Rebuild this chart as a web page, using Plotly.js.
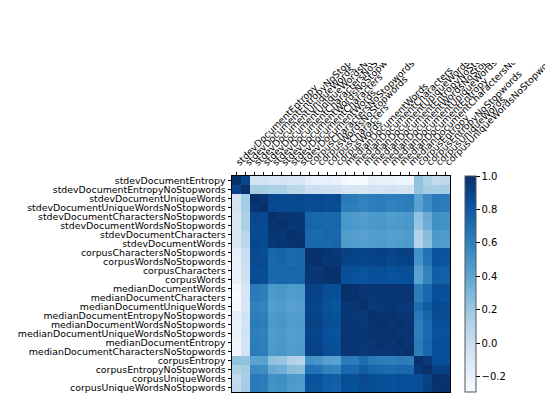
<!DOCTYPE html>
<html>
<head>
<meta charset="utf-8">
<script src="https://cdn.plot.ly/plotly-3.0.1.min.js"></script>
<style>
  html, body { margin: 0; padding: 0; background: #fff; }
  #chart { width: 545px; height: 408px; }
</style>
</head>
<body>
<div id="chart"></div>
<script>
// Feature names (same order on both axes)
const features = [
    'stdevDocumentEntropy', 'stdevDocumentEntropyNoStopwords',
    'stdevDocumentUniqueWords', 'stdevDocumentUniqueWordsNoStopwords',
    'stdevDocumentCharactersNoStopwords', 'stdevDocumentWordsNoStopwords',
    'stdevDocumentCharacters', 'stdevDocumentWords',
    'corpusCharactersNoStopwords', 'corpusWordsNoStopwords',
    'corpusCharacters', 'corpusWords',
    'medianDocumentWords', 'medianDocumentCharacters',
    'medianDocumentUniqueWords', 'medianDocumentEntropyNoStopwords',
    'medianDocumentWordsNoStopwords', 'medianDocumentUniqueWordsNoStopwords',
    'medianDocumentEntropy', 'medianDocumentCharactersNoStopwords',
    'corpusEntropy', 'corpusEntropyNoStopwords',
    'corpusUniqueWords', 'corpusUniqueWordsNoStopwords'
];

// Correlation matrix (row i = features[i])
const corr = [
    [1.00, 0.90, -0.06, -0.05, -0.08, -0.07, -0.09, -0.08, -0.17, -0.19, -0.18, -0.20, -0.26, -0.29, -0.28, -0.18, -0.19, -0.20, -0.22, -0.23, 0.24, 0.12, 0.04, 0.06],
    [0.90, 1.00, 0.17, 0.16, 0.13, 0.14, 0.08, 0.07, 0.00, -0.01, -0.02, -0.03, -0.08, -0.07, -0.09, -0.05, -0.06, -0.04, -0.06, -0.05, 0.23, 0.17, 0.16, 0.17],
    [-0.06, 0.17, 1.00, 0.97, 0.89, 0.88, 0.88, 0.89, 0.87, 0.88, 0.86, 0.87, 0.64, 0.63, 0.60, 0.62, 0.63, 0.61, 0.62, 0.63, 0.42, 0.55, 0.64, 0.63],
    [-0.05, 0.16, 0.97, 1.00, 0.88, 0.87, 0.87, 0.88, 0.86, 0.87, 0.85, 0.86, 0.62, 0.61, 0.59, 0.61, 0.62, 0.60, 0.61, 0.62, 0.43, 0.54, 0.63, 0.62],
    [-0.08, 0.13, 0.89, 0.88, 1.00, 0.98, 0.97, 0.96, 0.74, 0.73, 0.72, 0.73, 0.48, 0.47, 0.45, 0.47, 0.48, 0.46, 0.47, 0.48, 0.24, 0.37, 0.52, 0.51],
    [-0.07, 0.14, 0.88, 0.87, 0.98, 1.00, 0.96, 0.97, 0.75, 0.74, 0.73, 0.74, 0.49, 0.48, 0.46, 0.48, 0.49, 0.47, 0.48, 0.49, 0.22, 0.35, 0.53, 0.52],
    [-0.09, 0.08, 0.88, 0.87, 0.97, 0.96, 1.00, 0.98, 0.72, 0.71, 0.74, 0.73, 0.46, 0.45, 0.43, 0.45, 0.46, 0.44, 0.45, 0.46, 0.12, 0.27, 0.48, 0.47],
    [-0.08, 0.07, 0.89, 0.88, 0.96, 0.97, 0.98, 1.00, 0.73, 0.72, 0.73, 0.74, 0.47, 0.46, 0.44, 0.46, 0.47, 0.45, 0.46, 0.47, 0.10, 0.25, 0.47, 0.46],
    [-0.17, 0.00, 0.87, 0.86, 0.74, 0.75, 0.72, 0.73, 1.00, 0.99, 0.97, 0.96, 0.92, 0.91, 0.90, 0.91, 0.92, 0.90, 0.91, 0.92, 0.52, 0.68, 0.84, 0.83],
    [-0.19, -0.01, 0.88, 0.87, 0.73, 0.74, 0.71, 0.72, 0.99, 1.00, 0.96, 0.97, 0.91, 0.90, 0.89, 0.90, 0.91, 0.89, 0.90, 0.91, 0.50, 0.67, 0.83, 0.82],
    [-0.18, -0.02, 0.86, 0.85, 0.72, 0.73, 0.74, 0.73, 0.97, 0.96, 1.00, 0.99, 0.86, 0.85, 0.83, 0.85, 0.86, 0.84, 0.85, 0.86, 0.43, 0.60, 0.78, 0.77],
    [-0.20, -0.03, 0.87, 0.86, 0.73, 0.74, 0.73, 0.74, 0.96, 0.97, 0.99, 1.00, 0.85, 0.84, 0.82, 0.84, 0.85, 0.83, 0.84, 0.85, 0.42, 0.59, 0.77, 0.76],
    [-0.26, -0.08, 0.64, 0.62, 0.48, 0.49, 0.46, 0.47, 0.92, 0.91, 0.86, 0.85, 1.00, 0.99, 0.96, 0.97, 0.98, 0.97, 0.98, 0.97, 0.63, 0.73, 0.86, 0.85],
    [-0.29, -0.07, 0.63, 0.61, 0.47, 0.48, 0.45, 0.46, 0.91, 0.90, 0.85, 0.84, 0.99, 1.00, 0.97, 0.96, 0.97, 0.96, 0.97, 0.98, 0.62, 0.72, 0.85, 0.84],
    [-0.28, -0.09, 0.60, 0.59, 0.45, 0.46, 0.43, 0.44, 0.90, 0.89, 0.83, 0.82, 0.96, 0.97, 1.00, 0.95, 0.96, 0.97, 0.96, 0.95, 0.70, 0.78, 0.88, 0.87],
    [-0.18, -0.05, 0.62, 0.61, 0.47, 0.48, 0.45, 0.46, 0.91, 0.90, 0.85, 0.84, 0.97, 0.96, 0.95, 1.00, 0.98, 0.99, 0.97, 0.98, 0.64, 0.74, 0.86, 0.86],
    [-0.19, -0.06, 0.63, 0.62, 0.48, 0.49, 0.46, 0.47, 0.92, 0.91, 0.86, 0.85, 0.98, 0.97, 0.96, 0.98, 1.00, 0.98, 0.99, 0.97, 0.62, 0.72, 0.85, 0.85],
    [-0.20, -0.04, 0.61, 0.60, 0.46, 0.47, 0.44, 0.45, 0.90, 0.89, 0.84, 0.83, 0.97, 0.96, 0.97, 0.99, 0.98, 1.00, 0.97, 0.98, 0.61, 0.71, 0.84, 0.84],
    [-0.22, -0.06, 0.62, 0.61, 0.47, 0.48, 0.45, 0.46, 0.91, 0.90, 0.85, 0.84, 0.98, 0.97, 0.96, 0.97, 0.99, 0.97, 1.00, 0.98, 0.63, 0.73, 0.86, 0.85],
    [-0.23, -0.05, 0.63, 0.62, 0.48, 0.49, 0.46, 0.47, 0.92, 0.91, 0.86, 0.85, 0.97, 0.98, 0.95, 0.98, 0.97, 0.98, 0.98, 1.00, 0.62, 0.72, 0.85, 0.85],
    [0.24, 0.23, 0.42, 0.43, 0.24, 0.22, 0.12, 0.10, 0.52, 0.50, 0.43, 0.42, 0.63, 0.62, 0.70, 0.64, 0.62, 0.61, 0.63, 0.62, 1.00, 0.95, 0.86, 0.85],
    [0.12, 0.17, 0.55, 0.54, 0.37, 0.35, 0.27, 0.25, 0.68, 0.67, 0.60, 0.59, 0.73, 0.72, 0.78, 0.74, 0.72, 0.71, 0.73, 0.72, 0.95, 1.00, 0.91, 0.92],
    [0.04, 0.16, 0.64, 0.63, 0.52, 0.53, 0.48, 0.47, 0.84, 0.83, 0.78, 0.77, 0.86, 0.85, 0.88, 0.86, 0.85, 0.84, 0.86, 0.85, 0.86, 0.91, 1.00, 0.98],
    [0.06, 0.17, 0.63, 0.62, 0.51, 0.52, 0.47, 0.46, 0.83, 0.82, 0.77, 0.76, 0.85, 0.84, 0.87, 0.86, 0.85, 0.84, 0.85, 0.85, 0.85, 0.92, 0.98, 1.00]
];

const cbTicks = [-0.2, 0.0, 0.2, 0.4, 0.6, 0.8, 1.0];

// matplotlib "Blues"
const blues = ['#f7fbff', '#deebf7', '#c6dbef', '#9ecae1', '#6baed6',
               '#4292c6', '#2171b5', '#08519c', '#08306b'];
const colorscale = blues.map((c, i) => [i / (blues.length - 1), c]);

const font = 'DejaVu Sans, sans-serif';

const trace = {
    type: 'heatmap',
    z: corr,
    x: features,
    y: features,
    zmin: -0.29,
    zmax: 1.0,
    colorscale: colorscale,
    colorbar: {
        x: 1.069, xanchor: 'left', xpad: 0,
        y: 0.5, yanchor: 'middle', ypad: 0,
        len: 1, lenmode: 'fraction',
        thickness: 11, thicknessmode: 'pixels',
        outlinewidth: 1, outlinecolor: '#555',
        tickmode: 'array', tickvals: cbTicks, tickformat: '.1f',
        ticks: 'outside', ticklen: 3.5, tickcolor: '#000',
        tickfont: { family: font, size: 10, color: '#000' }
    }
};

const axisCommon = {
    type: 'category',
    tickmode: 'array',
    tickvals: features,
    ticktext: features,
    ticks: 'outside', ticklen: 3.5, tickcolor: '#000',
    tickfont: { family: font, size: 9.4, color: '#000' },
    showline: true, mirror: true, linecolor: '#000', linewidth: 1,
    showgrid: false, zeroline: false, automargin: false
};

const layout = {
    width: 545,
    height: 408,
    margin: { l: 232, r: 95, t: 176, b: 16 },
    paper_bgcolor: '#fff',
    plot_bgcolor: '#fff',
    font: { family: font, color: '#000' },
    xaxis: Object.assign({}, axisCommon, { side: 'top', tickangle: -45 }),
    yaxis: Object.assign({}, axisCommon, { autorange: 'reversed' }),
    // the original figure is cropped just above the rotated labels
    shapes: [{
        type: 'rect', xref: 'paper', yref: 'paper', layer: 'above',
        x0: -1.2, x1: 1.6, y0: 1.523, y1: 1.9,
        fillcolor: '#fff', line: { width: 0 }
    }]
};

Plotly.newPlot('chart', [trace], layout, { displayModeBar: false, staticPlot: true });
</script>
</body>
</html>
